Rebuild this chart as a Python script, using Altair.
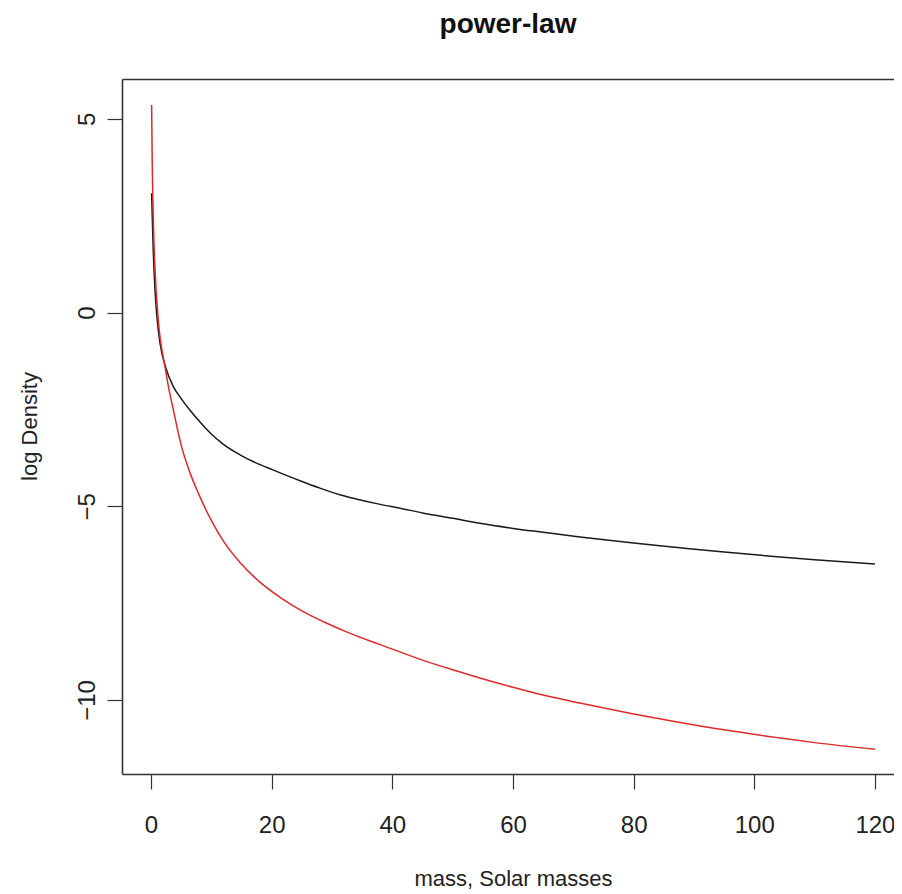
import altair as alt
import pandas as pd

# Black curve
black_mass = [0.1, 0.2, 0.35, 0.66, 1.0, 1.49, 2.5, 3.7, 5.0, 6.46, 8.0, 9.78, 12.0, 14.75, 17.0, 20.2, 24.7, 28.0,
              31.3, 34.0, 38.0, 41.3, 45.0, 50.0, 54.5, 60.0, 65.0, 71.1, 80.0, 87.7, 95.0, 104.3, 110.0, 120.0]
black_logd = [3.08, 2.5, 1.7, 0.58, -0.15, -0.79, -1.45, -1.91, -2.22, -2.52, -2.80, -3.10, -3.40, -3.67, -3.85, -4.06,
              -4.34, -4.53, -4.70, -4.81, -4.95, -5.05, -5.17, -5.31, -5.44, -5.57, -5.67, -5.79, -5.95, -6.07, -6.18,
              -6.31, -6.38, -6.49]

# Red curve
red_mass = [0.1, 0.2, 0.4, 0.7, 1.21, 2.32, 3.0, 3.7, 4.3, 5.0, 6.5, 7.84, 9.78, 12.0, 14.75, 18.0, 21.4, 25.0, 28.6,
            33.0, 38.0, 45.0, 50.0, 54.5, 60.0, 65.0, 71.1, 80.0, 87.7, 95.0, 104.3, 110.0, 120.0]
red_logd = [5.36, 3.9, 2.3, 1.0, -0.19, -1.40, -2.0, -2.51, -2.95, -3.42, -4.15, -4.66, -5.3, -5.9, -6.45, -6.95, -7.35,
            -7.7, -7.98, -8.28, -8.57, -8.97, -9.22, -9.43, -9.67, -9.87, -10.08, -10.36, -10.58, -10.77, -10.98,
            -11.10, -11.27]

x_ticks = [0, 20, 40, 60, 80, 100, 120]
y_ticks = [-10, -5, 0, 5]

df = pd.concat([
    pd.DataFrame({"mass": black_mass, "logd": black_logd, "series": "black", "order": range(len(black_mass))}),
    pd.DataFrame({"mass": red_mass, "logd": red_logd, "series": "red", "order": range(len(red_mass))}),
])

FONT = "Liberation Sans"
FRAME = "#333"

x_scale = alt.Scale(domain=[-4.81, 123.16], nice=False, zero=False)
y_scale = alt.Scale(domain=[-11.91, 6.03], nice=False, zero=False)

x = alt.X("mass:Q", scale=x_scale,
          axis=alt.Axis(values=x_ticks, title="mass, Solar masses", domain=True, domainColor=FRAME,
                        domainWidth=1.6, grid=False,
                        tickSize=15, tickColor="#333", tickWidth=1.2,
                        labelFont=FONT, labelFontSize=24, labelColor="#222", labelPadding=24,
                        titleFont=FONT, titleFontSize=22, titleFontWeight="normal", titleColor="#222",
                        titleX=391, titleY=104, titleBaseline="middle"))
y = alt.Y("logd:Q", scale=y_scale,
          axis=alt.Axis(values=y_ticks, title="log Density", domain=True, domainColor=FRAME,
                        domainWidth=1.6, grid=False,
                        tickSize=15, tickColor="#333", tickWidth=1.2,
                        labelFont=FONT, labelFontSize=24, labelColor="#222", labelPadding=8,
                        labelAngle=270, labelAlign="center", labelBaseline="bottom",
                        titleFont=FONT, titleFontSize=22, titleFontWeight="normal", titleColor="#222",
                        titleX=-93, titleY=347, titleBaseline="middle", titleAlign="center", titleAngle=270))

lines = alt.Chart(df).mark_line(strokeWidth=1.5, clip=True, interpolate="monotone").encode(
    x=x, y=y,
    color=alt.Color("series:N", scale=alt.Scale(domain=["black", "red"], range=["#1a1a1a", "#dd2a2a"]), legend=None),
    order="order:Q",
)

# invisible layer that only carries the top frame line (a top axis with domain only)
top_frame = alt.Chart(df).mark_line(opacity=0).encode(
    x=alt.X("mass:Q", scale=x_scale,
            axis=alt.Axis(orient="top", title=None, labels=False, ticks=False, grid=False,
                          domain=True, domainColor=FRAME, domainWidth=1.6)),
    y=alt.Y("logd:Q", scale=y_scale, axis=None),
    detail="series:N",
)

chart = alt.layer(lines, top_frame).resolve_axis(x="independent", y="independent").properties(
    width=772, height=695,
    title=alt.TitleParams("power-law", font=FONT, fontSize=28, fontWeight="bold", color="#111", offset=40),
    autosize=alt.AutoSizeParams(type="none"),
    padding={"left": 114, "top": 71, "right": 0, "bottom": 118},
).configure(background="white", view=alt.ViewConfig(strokeWidth=0))

chart.save("out.html", embed_options={"renderer": "svg", "actions": False})
